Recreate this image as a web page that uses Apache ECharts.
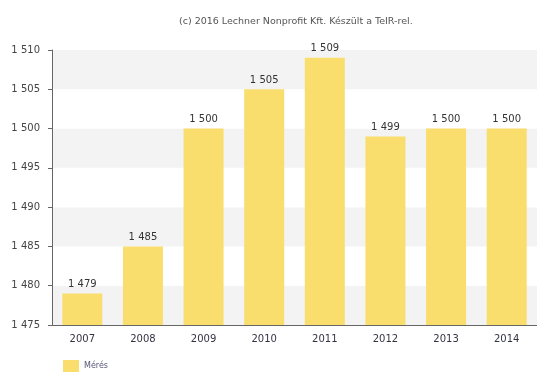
<!DOCTYPE html>
<html><head><meta charset="utf-8">
<script src="https://cdn.jsdelivr.net/npm/echarts@6/dist/echarts.min.js"></script>
<style>html,body{margin:0;padding:0;background:#fff}#c{width:537px;height:381px}</style>
</head><body><div id="c"></div>
<script>
const categories = ['2007','2008','2009','2010','2011','2012','2013','2014'];
const values = [1479, 1485, 1500, 1505, 1509, 1499, 1500, 1500];
const seriesName = 'Mérés';
const titleText = '(c) 2016 Lechner Nonprofit Kft. Készült a TeIR-rel.';
const fmt = v => String(v).replace(/\B(?=(\d{3})+(?!\d))/g, ' ');
const FF = 'DejaVu Sans';
const chart = echarts.init(document.getElementById('c'));
chart.setOption({
  animation: false,
  textStyle: { fontFamily: FF },
  title: { text: titleText, left: 174, top: 12, textStyle: { fontSize: 9.5, fontWeight: 'normal', color: '#555', fontFamily: FF } },
  legend: { left: 58, bottom: 4, itemWidth: 16, itemHeight: 12, icon: 'rect', itemGap: 6, textStyle: { fontSize: 8, color: '#557', fontFamily: FF }, data: [seriesName] },
  grid: { left: 52, right: 0, top: 50, bottom: 56 },
  xAxis: {
    type: 'category', data: categories,
    axisLine: { lineStyle: { color: '#666' } },
    axisTick: { alignWithLabel: true, length: 4, lineStyle: { color: '#666' } },
    axisLabel: { fontSize: 10, color: '#334', margin: 9, fontFamily: FF },
    splitLine: { show: false }
  },
  yAxis: {
    type: 'value', min: 1475, max: 1510, interval: 5,
    axisLine: { show: true, lineStyle: { color: '#666' } },
    axisTick: { show: true, length: 4, lineStyle: { color: '#666' } },
    axisLabel: { fontSize: 10, color: '#444', formatter: fmt, margin: 12, fontFamily: FF },
    splitLine: { show: false },
    splitArea: { show: true, areaStyle: { color: ['#f3f3f3', '#ffffff'] } }
  },
  series: [{
    name: seriesName, type: 'bar', data: values, barWidth: '66%',
    itemStyle: { color: '#F9DE6E' },
    label: { show: true, position: 'top', distance: 4, fontSize: 10, color: '#333', fontFamily: FF, formatter: p => fmt(p.value) }
  }]
});
</script></body></html>
